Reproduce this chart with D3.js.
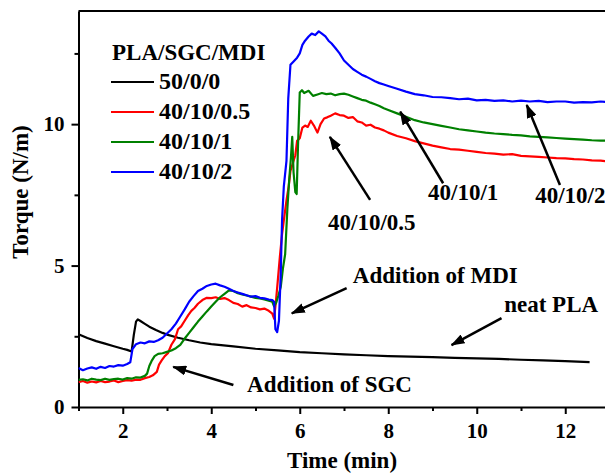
<!DOCTYPE html>
<html>
<head>
<meta charset="utf-8">
<script src="https://cdn.jsdelivr.net/npm/d3@7"></script>
<style>
  body { margin: 0; background: #fff; }
  text { font-family: "Times New Roman", "Liberation Serif", serif; font-weight: bold; fill: #000; }
</style>
</head>
<body>
<div id="chart"></div>
<script>
// Torque curves (time in min, torque in N/m)

const timeNeat = [1.0, 1.2, 1.4, 1.6, 1.8, 2.0, 2.1, 2.2, 2.25, 2.3, 2.34, 2.4, 2.5, 2.6, 2.75, 2.9, 3.0, 3.25, 3.5, 3.75, 4.0, 4.5, 5.0, 5.5, 6.0, 6.5, 7.0, 7.5, 8.0, 8.5, 9.0, 9.5, 10.0, 10.5, 11.0, 11.5, 12.0, 12.55]
const torqueNeat = [2.57, 2.44, 2.33, 2.24, 2.15, 2.06, 2.02, 1.96, 2.55, 3.02, 3.1, 3.04, 2.94, 2.84, 2.72, 2.62, 2.56, 2.45, 2.36, 2.28, 2.22, 2.14, 2.06, 2.0, 1.94, 1.9, 1.86, 1.83, 1.8, 1.78, 1.76, 1.74, 1.72, 1.7, 1.67, 1.65, 1.62, 1.59]

const timeLow = [1.0, 1.1, 1.2, 1.3, 1.4, 1.5, 1.6, 1.7, 1.8, 1.9, 2.0, 2.1, 2.2, 2.3, 2.4, 2.5, 2.6, 2.68, 2.77, 2.82, 2.88, 2.95, 3.02, 3.1, 3.18, 3.25, 3.32, 3.4, 3.48, 3.55, 3.62, 3.7, 3.8, 3.9, 4.0, 4.1, 4.2, 4.3, 4.4, 4.5, 4.6, 4.7, 4.8, 4.9, 5.0, 5.1, 5.2, 5.3, 5.38, 5.42, 5.46, 5.5, 5.55, 5.6, 5.64, 5.7, 5.75, 5.79, 5.84, 5.9, 5.94, 6.0, 6.06, 6.12, 6.18, 6.25, 6.32, 6.4, 6.47, 6.55, 6.62, 6.7, 6.8, 6.9, 7.0, 7.1, 7.2, 7.3, 7.4, 7.5, 7.6, 7.7, 7.8, 7.9, 8.0, 8.2, 8.4, 8.6, 8.8, 9.0, 9.2, 9.4, 9.6, 9.8, 10.0, 10.2, 10.4, 10.6, 10.8, 11.0, 11.2, 11.4, 11.6, 11.8, 12.0, 12.2, 12.4, 12.6, 12.8, 13.0]
const torqueLow = [0.88, 0.92, 0.86, 0.9, 0.87, 0.92, 0.88, 0.9, 0.94, 0.88, 0.92, 0.95, 0.93, 0.97, 0.96, 1.02, 1.06, 1.12, 1.24, 1.5, 1.65, 1.8, 1.9, 2.2, 2.4, 2.75, 2.85, 3.05, 3.25, 3.4, 3.5, 3.65, 3.78, 3.86, 3.85, 3.88, 3.82, 3.85, 3.78, 3.68, 3.64, 3.55, 3.6, 3.52, 3.5, 3.45, 3.48, 3.4, 3.3, 3.12, 3.7, 4.4, 5.3, 6.1, 6.6, 7.3, 7.8, 8.35, 8.6, 8.9, 9.41, 9.5, 9.88, 9.95, 9.9, 10.12, 9.95, 9.7, 10.0, 10.2, 10.24, 10.3, 10.38, 10.32, 10.3, 10.22, 10.25, 10.1, 10.06, 9.95, 9.98, 9.88, 9.84, 9.78, 9.7, 9.58, 9.5, 9.4, 9.32, 9.24, 9.18, 9.12, 9.1, 9.06, 9.02, 8.98, 8.96, 8.92, 8.94, 8.88, 8.86, 8.84, 8.82, 8.8, 8.79, 8.76, 8.75, 8.72, 8.71, 8.68]

const timeMid = [1.0, 1.1, 1.2, 1.3, 1.4, 1.5, 1.6, 1.7, 1.8, 1.9, 2.0, 2.1, 2.2, 2.3, 2.4, 2.5, 2.55, 2.6, 2.65, 2.72, 2.8, 2.9, 3.0, 3.1, 3.2, 3.3, 3.4, 3.5, 3.6, 3.7, 3.8, 3.9, 4.0, 4.1, 4.2, 4.3, 4.4, 4.5, 4.6, 4.7, 4.8, 4.9, 5.0, 5.1, 5.2, 5.3, 5.38, 5.42, 5.47, 5.52, 5.57, 5.62, 5.67, 5.72, 5.76, 5.8, 5.83, 5.86, 5.9, 5.93, 5.96, 6.0, 6.05, 6.1, 6.2, 6.3, 6.4, 6.5, 6.6, 6.7, 6.8, 6.9, 7.0, 7.1, 7.2, 7.3, 7.4, 7.5, 7.6, 7.7, 7.8, 7.9, 8.0, 8.2, 8.4, 8.6, 8.8, 9.0, 9.2, 9.4, 9.6, 9.8, 10.0, 10.2, 10.4, 10.6, 10.8, 11.0, 11.2, 11.4, 11.6, 11.8, 12.0, 12.2, 12.4, 12.6, 12.8, 13.0]
const torqueMid = [0.96, 0.98, 0.94, 1.0, 0.97, 0.95, 1.0, 0.96, 0.99, 1.0, 0.97, 1.02, 1.0, 1.05, 1.04, 1.1, 1.18, 1.45, 1.62, 1.8, 1.88, 1.9, 1.95, 2.0, 2.08, 2.2, 2.42, 2.62, 2.82, 3.02, 3.2, 3.38, 3.55, 3.72, 3.88, 4.0, 4.12, 4.1, 4.02, 3.98, 3.94, 3.9, 3.86, 3.84, 3.8, 3.76, 3.72, 3.56, 3.7, 3.95, 4.24, 4.9, 5.4, 7.0, 8.0, 8.8, 9.55, 8.3, 7.6, 7.53, 9.2, 11.12, 11.2, 11.1, 11.18, 11.0, 11.05, 11.1, 11.06, 11.08, 11.02, 11.06, 11.08, 11.04, 10.98, 10.92, 10.86, 10.83, 10.76, 10.7, 10.64, 10.56, 10.5, 10.38, 10.26, 10.14, 10.06, 10.0, 9.94, 9.88, 9.82, 9.78, 9.74, 9.7, 9.67, 9.65, 9.62, 9.6, 9.57, 9.55, 9.53, 9.51, 9.49, 9.47, 9.45, 9.43, 9.42, 9.41]

const timeHigh = [1.0, 1.1, 1.2, 1.3, 1.4, 1.5, 1.6, 1.7, 1.8, 1.9, 2.0, 2.1, 2.17, 2.22, 2.3, 2.4, 2.5, 2.6, 2.7, 2.8, 2.9, 3.0, 3.1, 3.2, 3.3, 3.4, 3.5, 3.6, 3.7, 3.8, 3.9, 4.0, 4.1, 4.2, 4.3, 4.4, 4.5, 4.6, 4.7, 4.8, 4.9, 5.0, 5.1, 5.2, 5.3, 5.38, 5.42, 5.45, 5.49, 5.53, 5.57, 5.6, 5.64, 5.7, 5.74, 5.79, 5.85, 5.94, 6.0, 6.06, 6.12, 6.2, 6.27, 6.35, 6.43, 6.5, 6.58, 6.65, 6.72, 6.8, 6.9, 7.0, 7.1, 7.2, 7.3, 7.4, 7.5, 7.6, 7.7, 7.8, 7.9, 8.0, 8.2, 8.4, 8.6, 8.8, 9.0, 9.2, 9.4, 9.6, 9.8, 10.0, 10.2, 10.4, 10.6, 10.8, 11.0, 11.2, 11.4, 11.6, 11.8, 12.0, 12.2, 12.4, 12.6, 12.8, 13.0]
const torqueHigh = [1.38, 1.3, 1.36, 1.4, 1.35, 1.42, 1.38, 1.45, 1.43, 1.48, 1.46, 1.52, 1.58, 2.05, 2.22, 2.28, 2.25, 2.32, 2.3, 2.36, 2.45, 2.6, 2.75, 2.95, 3.2, 3.45, 3.72, 3.92, 4.1, 4.18, 4.28, 4.33, 4.36, 4.3, 4.25, 4.18, 4.1, 4.05, 4.0, 3.95, 3.9, 3.92, 3.86, 3.84, 3.8, 3.78, 3.72, 2.75, 2.65, 3.05, 4.7, 6.6, 7.8, 8.7, 10.9, 12.1, 12.2, 12.35, 12.5, 12.8, 12.95, 13.1, 13.2, 13.15, 13.28, 13.2, 13.1, 12.95, 12.85, 12.7, 12.5, 12.25, 12.1, 11.95, 11.85, 11.75, 11.68, 11.6, 11.52, 11.45, 11.4, 11.35, 11.25, 11.15, 11.06, 11.02, 10.96, 10.95, 10.92, 10.88, 10.9, 10.84, 10.86, 10.82, 10.84, 10.8, 10.83, 10.8, 10.82, 10.78, 10.8, 10.8, 10.76, 10.78, 10.77, 10.8, 10.78]

const seriesNames = ['50/0/0', '40/10/0.5', '40/10/1', '40/10/2']
const seriesColors = ['#000000', '#ff0000', '#008000', '#0000ff']
const seriesTimes = [timeNeat, timeLow, timeMid, timeHigh]
const seriesTorques = [torqueNeat, torqueLow, torqueMid, torqueHigh]

const xTicksMajor = [2, 4, 6, 8, 10, 12]
const xTicksMinor = [1, 3, 5, 7, 9, 11, 13]
const yTicksMajor = [0, 5, 10]
const yTicksMinor = [2.5, 7.5, 12.5]

// annotation labels and arrows: [label, textX, textY, tailX, tailY, headX, headY] in data units
const notes = [
  ['40/10/0.5', 6.64, 6.26, 7.59, 7.32, 6.68, 9.55],
  ['40/10/1', 8.9, 7.32, 9.24, 7.91, 8.27, 10.44],
  ['40/10/2', 11.32, 7.2, 11.88, 7.85, 11.13, 10.68],
  ['Addition of MDI', 7.2, 4.37, 7.06, 4.2, 5.82, 3.31],
  ['neat PLA', 10.62, 3.37, 10.56, 3.14, 9.43, 2.19],
  ['Addition of SGC', 4.81, 0.54, 4.5, 0.78, 3.14, 1.42]
]

const width = 605
const height = 473
const plotLeft = 78.5
const plotTop = 11
const plotBottom = 407

const x = d3.scaleLinear().domain([1, 13]).range([plotLeft, 609.5])
const y = d3.scaleLinear().domain([0, 14]).range([plotBottom, plotTop])

const svg = d3.select('#chart')
  .append('svg')
  .attr('width', width)
  .attr('height', height)

svg.append('rect')
  .attr('width', width)
  .attr('height', height)
  .attr('fill', '#fff')

// frame: top line + axes
svg.append('line')
  .attr('x1', plotLeft).attr('x2', x(13))
  .attr('y1', plotTop).attr('y2', plotTop)
  .attr('stroke', '#000').attr('stroke-width', 2)

const xAxis = svg.append('g')
  .attr('transform', `translate(0, ${plotBottom})`)
  .call(d3.axisBottom(x).tickValues(xTicksMajor).tickSize(7).tickSizeOuter(0).tickPadding(9).tickFormat(d3.format('d')))
xAxis.append('g')
  .call(d3.axisBottom(x).tickValues(xTicksMinor).tickSize(4).tickFormat(''))
  .select('.domain').remove()

const yAxis = svg.append('g')
  .attr('transform', `translate(${plotLeft}, 0)`)
  .call(d3.axisLeft(y).tickValues(yTicksMajor).tickSize(7).tickSizeOuter(0).tickPadding(7).tickFormat(d3.format('d')))
yAxis.append('g')
  .call(d3.axisLeft(y).tickValues(yTicksMinor).tickSize(4).tickFormat(''))
  .select('.domain').remove()

svg.selectAll('.domain').attr('stroke-width', 2)
svg.selectAll('.tick line').attr('stroke-width', 2)
svg.selectAll('.tick text').style('font-size', '21px').attr('fill', '#000')

// axis titles
svg.append('text')
  .attr('x', 342).attr('y', 468)
  .attr('text-anchor', 'middle')
  .style('font-size', '23px')
  .text('Time (min)')

svg.append('text')
  .attr('transform', 'translate(28, 192) rotate(-90)')
  .attr('text-anchor', 'middle')
  .style('font-size', '23px')
  .text('Torque (N/m)')

// curves
const line = d3.line()
  .x(d => x(d[0]))
  .y(d => y(d[1]))

svg.append('clipPath').attr('id', 'plot-clip')
  .append('rect')
  .attr('x', plotLeft).attr('y', plotTop)
  .attr('width', x(13) - plotLeft).attr('height', plotBottom - plotTop)

svg.append('g')
  .attr('clip-path', 'url(#plot-clip)')
  .selectAll('path')
  .data(seriesNames.map((name, i) => seriesTimes[i].map((t, j) => [t, seriesTorques[i][j]])))
  .enter()
  .append('path')
  .attr('d', line)
  .attr('fill', 'none')
  .attr('stroke', (d, i) => seriesColors[i])
  .attr('stroke-width', 2.2)
  .attr('stroke-linejoin', 'round')

// legend
const legend = svg.append('g')
legend.append('text')
  .attr('x', 112).attr('y', 60)
  .style('font-size', '23px')
  .text('PLA/SGC/MDI')

const legendItem = legend.selectAll('g.item')
  .data(seriesNames)
  .enter()
  .append('g')
  .attr('class', 'item')
  .attr('transform', (d, i) => `translate(0, ${82 + i * 30})`)

legendItem.append('line')
  .attr('x1', 111).attr('x2', 154)
  .attr('stroke', (d, i) => seriesColors[i])
  .attr('stroke-width', 2.2)

legendItem.append('text')
  .attr('x', 159).attr('y', 7)
  .style('font-size', '24px')
  .text(d => d)

// arrows
svg.append('defs').append('marker')
  .attr('id', 'head')
  .attr('markerUnits', 'userSpaceOnUse')
  .attr('viewBox', '0 0 14 10')
  .attr('refX', 13).attr('refY', 5)
  .attr('markerWidth', 14).attr('markerHeight', 10)
  .attr('orient', 'auto')
  .append('path')
  .attr('d', 'M0,0L14,5L0,10Z')
  .attr('fill', '#000')

const note = svg.append('g')
  .selectAll('g')
  .data(notes)
  .enter()
  .append('g')

note.append('line')
  .attr('x1', d => x(d[3])).attr('y1', d => y(d[4]))
  .attr('x2', d => x(d[5])).attr('y2', d => y(d[6]))
  .attr('stroke', '#000')
  .attr('stroke-width', 2.5)
  .attr('marker-end', 'url(#head)')

note.append('text')
  .attr('x', d => x(d[1])).attr('y', d => y(d[2]))
  .style('font-size', '23px')
  .text(d => d[0])
</script>
</body>
</html>
